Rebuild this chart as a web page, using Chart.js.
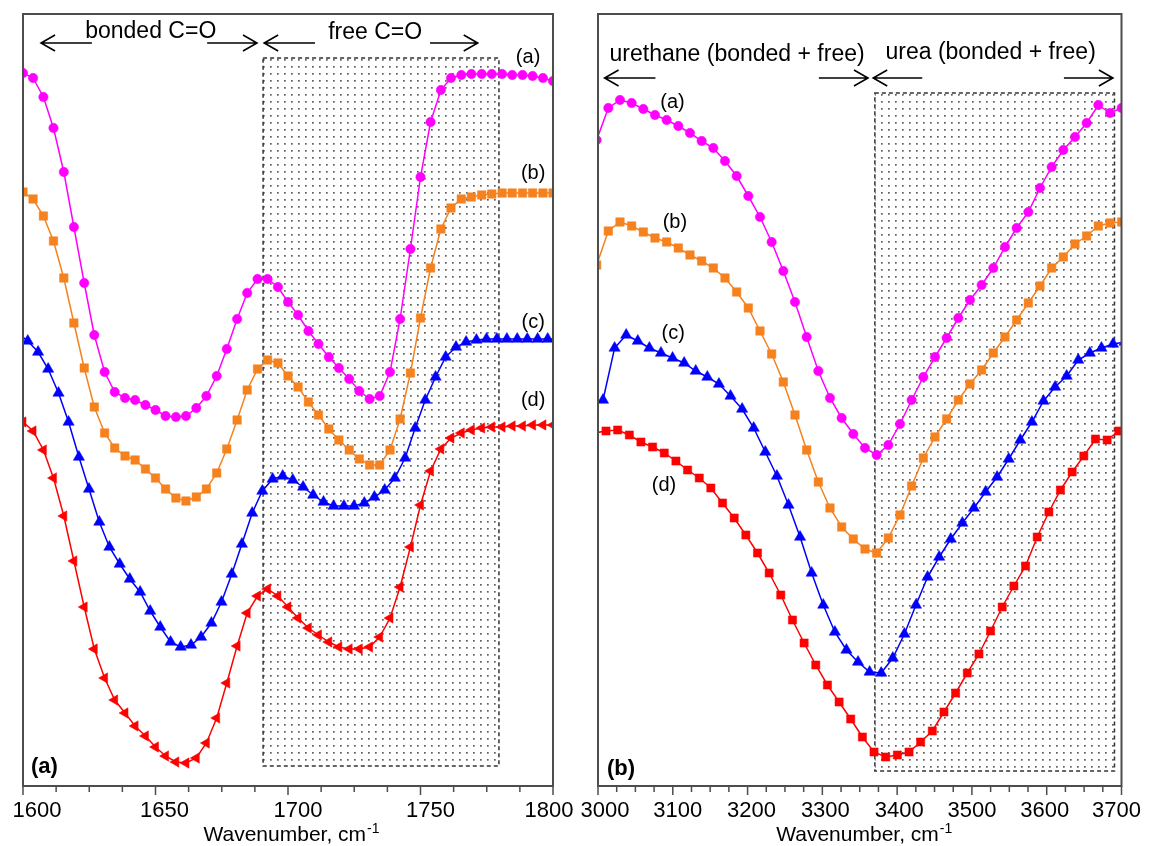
<!DOCTYPE html>
<html>
<head>
<meta charset="utf-8">
<script src="https://cdn.jsdelivr.net/npm/chart.js@4.4.1/dist/chart.umd.min.js"></script>
<style>
  html, body { margin: 0; padding: 0; background: #fff; }
  body { width: 1151px; height: 846px; position: relative; overflow: hidden; }
  canvas { position: absolute; top: 0; }
  #left { left: -20px; width: 610px; height: 846px; }
  #right { left: 570px; width: 581px; height: 846px; }
</style>
</head>
<body>
<canvas id="left" width="610" height="846"></canvas>
<canvas id="right" width="581" height="846"></canvas>
<script>
// ---- panel (a): C=O region, 1600-1800 cm-1 ----
const xLeft = [1600.0, 1603.8, 1607.7, 1611.5, 1615.4, 1619.2, 1623.1, 1626.9, 1630.8, 1634.6,
  1638.5, 1642.3, 1646.2, 1650.0, 1653.8, 1657.7, 1661.5, 1665.4, 1669.2, 1673.1,
  1676.9, 1680.8, 1684.6, 1688.5, 1692.3, 1696.2, 1700.0, 1703.8, 1707.7, 1711.5,
  1715.4, 1719.2, 1723.1, 1726.9, 1730.8, 1734.6, 1738.5, 1742.3, 1746.2, 1750.0,
  1753.8, 1757.7, 1761.5, 1765.4, 1769.2, 1773.1, 1776.9, 1780.8, 1784.6, 1788.5,
  1792.3, 1796.2, 1800.0];
// (c) の点は少しずれた位置に打たれている
const xLeftC = [1598.0, 1601.8, 1605.7, 1609.5, 1613.4, 1617.2, 1621.1, 1624.9, 1628.8, 1632.6,
  1636.5, 1640.3, 1644.2, 1648.0, 1651.8, 1655.7, 1659.5, 1663.4, 1667.2, 1671.1,
  1674.9, 1678.8, 1682.6, 1686.5, 1690.3, 1694.2, 1698.0, 1701.8, 1705.7, 1709.5,
  1713.4, 1717.2, 1721.1, 1724.9, 1728.8, 1732.6, 1736.5, 1740.3, 1744.2, 1748.0,
  1751.8, 1755.7, 1759.5, 1763.4, 1767.2, 1771.1, 1774.9, 1778.8, 1782.6, 1786.5,
  1790.3, 1794.2, 1798.0, 1801.8];

const aLeft = [71.7, 71.2, 69.3, 66.2, 61.8, 56.3, 50.7, 45.5, 41.8, 39.8,
  39.2, 39.0, 38.5, 38.0, 37.4, 37.3, 37.4, 38.2, 39.4, 41.4,
  44.1, 47.1, 49.7, 51.1, 51.1, 50.3, 48.8, 47.5, 45.9, 44.6,
  43.3, 42.2, 41.1, 39.9, 39.1, 39.4, 41.8, 47.1, 54.1, 61.3,
  66.8, 70.0, 71.2, 71.5, 71.6, 71.6, 71.6, 71.6, 71.5, 71.5,
  71.4, 71.2, 70.9];
const bLeft = [59.8, 59.1, 57.4, 54.9, 51.2, 46.7, 42.2, 38.3, 35.7, 34.2,
  33.4, 33.0, 32.1, 31.2, 30.1, 29.2, 28.9, 29.3, 30.1, 31.7,
  34.1, 37.0, 40.0, 42.1, 43.0, 42.7, 41.4, 40.3, 38.8, 37.5,
  36.1, 35.0, 34.0, 33.1, 32.5, 32.5, 34.0, 37.1, 41.7, 47.2,
  52.2, 56.1, 58.2, 59.1, 59.3, 59.5, 59.6, 59.7, 59.7, 59.7,
  59.7, 59.7, 59.7];
const cLeft = [45.7, 44.9, 43.8, 42.1, 39.7, 36.8, 33.3, 30.1, 26.8, 24.3,
  22.6, 21.1, 19.8, 17.9, 16.3, 14.8, 14.3, 14.5, 15.3, 16.7,
  18.8, 21.6, 24.6, 27.7, 29.9, 31.1, 31.4, 31.0, 30.3, 29.5,
  28.8, 28.4, 28.4, 28.4, 28.7, 29.3, 30.0, 31.2, 33.2, 36.2,
  39.0, 41.3, 43.3, 44.3, 44.8, 45.0, 45.1, 45.1, 45.1, 45.1,
  45.1, 45.1, 45.1, 45.1];
const dLeft = [36.8, 35.9, 34.0, 31.2, 27.4, 22.9, 18.3, 14.1, 11.2, 9.0,
  7.7, 6.4, 5.4, 4.3, 3.4, 2.8, 2.7, 3.2, 4.7, 7.2,
  10.7, 14.4, 17.7, 19.4, 20.1, 19.4, 18.3, 17.2, 16.2, 15.5,
  14.8, 14.3, 14.1, 14.1, 14.3, 15.3, 17.2, 20.3, 24.3, 28.5,
  31.9, 34.1, 35.2, 35.7, 36.0, 36.2, 36.3, 36.3, 36.4, 36.4,
  36.5, 36.5, 36.5];

// ---- panel (b): N-H region, 3000-3700 cm-1 ----
const xRight = [2998.2, 3013.8, 3029.4, 3045.0, 3060.6, 3076.2, 3091.8, 3107.4, 3123.0, 3138.6,
  3154.2, 3169.8, 3185.4, 3201.0, 3216.6, 3232.2, 3247.8, 3263.4, 3279.0, 3294.6,
  3310.2, 3325.8, 3341.4, 3357.0, 3372.6, 3388.2, 3403.8, 3419.4, 3435.0, 3450.6,
  3466.2, 3481.8, 3497.4, 3513.0, 3528.6, 3544.2, 3559.8, 3575.4, 3591.0, 3606.6,
  3622.2, 3637.8, 3653.4, 3669.0, 3684.6, 3700.2];
const xRightC = [3006.7, 3022.2, 3037.7, 3053.2, 3068.7, 3084.2, 3099.7, 3115.2, 3130.7, 3146.2,
  3161.7, 3177.2, 3192.7, 3208.2, 3223.7, 3239.2, 3254.7, 3270.2, 3285.7, 3301.2,
  3316.7, 3332.2, 3347.7, 3363.2, 3378.7, 3394.2, 3409.7, 3425.2, 3440.7, 3456.2,
  3471.7, 3487.2, 3502.7, 3518.2, 3533.7, 3549.2, 3564.7, 3580.2, 3595.7, 3611.2,
  3626.7, 3642.2, 3657.7, 3673.2, 3688.7, 3704.2];
const xRightD = [2995.1, 3010.7, 3026.3, 3041.9, 3057.4, 3073.0, 3088.6, 3104.2, 3119.8, 3135.4,
  3150.9, 3166.5, 3182.1, 3197.7, 3213.3, 3228.9, 3244.4, 3260.0, 3275.6, 3291.2,
  3306.8, 3322.4, 3337.9, 3353.5, 3369.1, 3384.7, 3400.3, 3415.9, 3431.4, 3447.0,
  3462.6, 3478.2, 3493.8, 3509.4, 3524.9, 3540.5, 3556.1, 3571.7, 3587.3, 3602.9,
  3618.4, 3634.0, 3649.6, 3665.2, 3680.8, 3696.4, 3711.9];

const aRight = [65.0, 68.2, 69.0, 68.7, 68.1, 67.5, 67.0, 66.4, 65.7, 64.9,
  64.2, 62.9, 61.4, 59.4, 57.3, 54.8, 51.9, 48.8, 45.3, 41.9,
  39.2, 37.2, 35.6, 34.2, 33.5, 34.5, 36.6, 39.0, 41.3, 43.3,
  45.2, 47.2, 49.0, 50.5, 52.2, 54.3, 56.2, 57.8, 60.2, 62.3,
  64.0, 65.3, 66.7, 68.5, 67.7, 68.2];
const bRight = [52.5, 55.9, 56.8, 56.4, 55.8, 55.2, 54.8, 54.2, 53.5, 52.9,
  52.2, 51.2, 49.8, 48.2, 45.9, 43.6, 40.8, 37.5, 34.0, 30.8,
  28.2, 26.3, 25.1, 24.1, 23.7, 25.2, 27.5, 30.4, 33.2, 35.3,
  37.1, 39.0, 40.6, 42.0, 43.7, 45.3, 47.0, 48.7, 50.4, 52.2,
  53.3, 54.6, 55.4, 56.4, 56.7, 56.8];
const cRight = [39.0, 44.2, 45.5, 44.9, 44.2, 43.7, 43.2, 42.7, 41.9, 41.3,
  40.6, 39.4, 38.1, 36.2, 33.8, 31.4, 28.5, 25.3, 21.7, 18.5,
  15.8, 14.0, 12.8, 11.8, 11.7, 13.2, 15.6, 18.5, 21.3, 23.3,
  25.1, 26.7, 28.2, 29.8, 31.3, 33.1, 35.0, 36.8, 38.9, 40.3,
  41.4, 43.0, 43.7, 44.2, 44.6, 44.8];
const dRight = [35.7, 35.9, 36.0, 35.5, 34.8, 34.3, 33.7, 32.9, 32.0, 31.2,
  30.2, 28.7, 27.2, 25.5, 23.7, 21.7, 19.5, 17.0, 14.7, 12.5,
  10.5, 8.8, 7.1, 5.3, 3.8, 3.3, 3.5, 3.8, 4.8, 5.9,
  7.8, 9.7, 11.7, 13.6, 15.9, 18.3, 20.4, 22.4, 25.3, 27.8,
  30.0, 31.8, 33.4, 35.1, 35.0, 35.9, 36.2];

const seriesNames = ['(a)', '(b)', '(c)', '(d)'];
const axisTitle = 'Wavenumber, cm';
const axisTitleSup = '-1';

const FONT = "'Liberation Sans', Arial, sans-serif";
const FRAME = '#4d4d4d';
const COLORS = ['#ff00ff', '#f5821f', '#0000ff', '#ff0000'];

// 系列ごとのマーカー（(d) は左が◀、右が■）
const markersLeft = [
  { pointStyle: 'circle', radius: 4.7, rotation: 0 },
  { pointStyle: 'rect', radius: 6, rotation: 0 },
  { pointStyle: 'triangle', radius: 6.5, rotation: 0 },
  { pointStyle: 'triangle', radius: 6, rotation: -90 }
];
const markersRight = [
  { pointStyle: 'circle', radius: 4.7, rotation: 0 },
  { pointStyle: 'rect', radius: 6, rotation: 0 },
  { pointStyle: 'triangle', radius: 6.5, rotation: 0 },
  { pointStyle: 'rect', radius: 5.8, rotation: 0 }
];

function toPoints(xs, ys) {
  return ys.map((y, i) => ({ x: xs[i], y: y }));
}

function makeDataset(xs, ys, i, markers) {
  const m = markers[i];
  return {
    label: seriesNames[i],
    data: toPoints(xs, ys),
    borderColor: COLORS[i],
    backgroundColor: COLORS[i],
    borderWidth: 1.5,
    pointStyle: m.pointStyle,
    pointRadius: m.radius,
    pointRotation: m.rotation,
    pointBorderWidth: 0.5,
    pointBorderColor: COLORS[i],
    pointBackgroundColor: COLORS[i],
    tension: 0
  };
}

// 点描の網掛けパターン
function dotPattern(ctx) {
  const c = document.createElement('canvas');
  c.width = 7; c.height = 7;
  const g = c.getContext('2d');
  g.fillStyle = '#5e5e5e';
  g.fillRect(3, 3, 1.7, 1.7);
  return ctx.createPattern(c, 'repeat');
}

function drawArrow(ctx, x0, y0, x1, y1) {
  const dir = Math.sign(x1 - x0);
  ctx.beginPath();
  ctx.moveTo(x0, y0);
  ctx.lineTo(x1, y1);
  ctx.moveTo(x1 - dir * 14, y1 - 8);
  ctx.lineTo(x1, y1);
  ctx.lineTo(x1 - dir * 14, y1 + 8);
  ctx.stroke();
}

function panelPlugin(p) {
  return {
    id: 'panelDecor',
    beforeDatasetsDraw(chart) {
      const { ctx, scales: { x, y } } = chart;
      const x0 = x.getPixelForValue(p.zone[0]), x1 = x.getPixelForValue(p.zone[1]);
      const y0 = y.getPixelForValue(p.zone[2]), y1 = y.getPixelForValue(p.zone[3]);
      ctx.save();
      ctx.fillStyle = dotPattern(ctx);
      ctx.fillRect(x0, y0, x1 - x0, y1 - y0);
      ctx.setLineDash([4, 3]);
      ctx.strokeStyle = '#333';
      ctx.lineWidth = 1.5;
      ctx.strokeRect(x0, y0, x1 - x0, y1 - y0);
      ctx.restore();
    },
    afterDatasetsDraw(chart) {
      const { ctx, chartArea: a, scales: { x, y } } = chart;
      ctx.save();
      // 枠
      ctx.strokeStyle = FRAME;
      ctx.lineWidth = 2;
      ctx.strokeRect(a.left, a.top, a.right - a.left, a.bottom - a.top);
      // 目盛り（主 9px・副 6px）
      ctx.lineWidth = 1.5;
      ctx.beginPath();
      for (let v = x.min; v <= x.max + 0.01; v += p.minorStep) {
        const px = x.getPixelForValue(v);
        ctx.moveTo(px, a.bottom);
        ctx.lineTo(px, a.bottom + 6);
      }
      x.ticks.forEach(t => {
        const px = x.getPixelForValue(t.value);
        ctx.moveTo(px, a.bottom);
        ctx.lineTo(px, a.bottom + 9);
      });
      ctx.stroke();
      // 目盛りラベル（元図では少しずれて置かれている）
      ctx.fillStyle = '#000';
      ctx.font = '22px ' + FONT;
      ctx.textAlign = 'center';
      ctx.textBaseline = 'alphabetic';
      x.ticks.forEach((t, i) => {
        const px = x.getPixelForValue(t.value) + (p.labelShift[i] || 0);
        ctx.fillText(String(t.value), px, a.bottom + 31);
      });

      // 領域の説明と矢印
      ctx.strokeStyle = '#000';
      ctx.lineWidth = 1.6;
      ctx.font = '23px ' + FONT;
      p.notes.forEach(n => {
        ctx.fillText(n.text, x.getPixelForValue(n.x), y.getPixelForValue(n.y));
      });
      p.arrows.forEach(r => {
        const py = y.getPixelForValue(r.y);
        drawArrow(ctx, x.getPixelForValue(r.from), py, x.getPixelForValue(r.to), py);
      });

      // 系列ラベル
      ctx.font = '20px ' + FONT;
      ctx.textBaseline = 'middle';
      p.labels.forEach((l, i) => {
        ctx.fillText(seriesNames[i], x.getPixelForValue(l[0]), y.getPixelForValue(l[1]));
      });

      // パネル記号
      ctx.font = 'bold 22px ' + FONT;
      ctx.fillText(p.panelName, x.getPixelForValue(p.panelPos[0]), y.getPixelForValue(p.panelPos[1]));

      // 軸タイトル（上付き -1）
      ctx.textAlign = 'left';
      ctx.textBaseline = 'alphabetic';
      ctx.font = '21px ' + FONT;
      const w1 = ctx.measureText(axisTitle).width;
      ctx.font = '14px ' + FONT;
      const w2 = ctx.measureText(axisTitleSup).width;
      const cx = (a.left + a.right) / 2 - (w1 + w2) / 2 + p.titleShift;
      const by = a.bottom + 55;
      ctx.font = '21px ' + FONT;
      ctx.fillText(axisTitle, cx, by);
      ctx.font = '14px ' + FONT;
      ctx.fillText(axisTitleSup, cx + w1 + 1, by - 8);
      ctx.restore();
    }
  };
}

function makePanel(id, p) {
  const ctx = document.getElementById(id).getContext('2d');
  return new Chart(ctx, {
    type: 'line',
    data: { datasets: p.datasets },
    options: {
      responsive: false,
      animation: false,
      layout: { padding: p.padding },
      plugins: { legend: { display: false }, tooltip: { enabled: false } },
      scales: {
        x: {
          type: 'linear',
          min: p.min,
          max: p.max,
          afterFit: s => { s.height = 60; },
          ticks: { stepSize: p.step, autoSkip: false, display: false },
          grid: { display: false },
          border: { display: false }
        },
        y: { display: false, min: 0.4, max: 77.6 }
      }
    },
    plugins: [panelPlugin(p)]
  });
}

makePanel('left', {
  min: 1600, max: 1800, step: 50, minorStep: 12.5,
  padding: { left: 43, right: 37, top: 14, bottom: 0 },
  labelShift: [14, 9, 10, 10, -4],
  titleShift: 3,
  datasets: [
    makeDataset(xLeft, aLeft, 0, markersLeft),
    makeDataset(xLeft, bLeft, 1, markersLeft),
    makeDataset(xLeftC, cLeft, 2, markersLeft),
    makeDataset(xLeft, dLeft, 3, markersLeft)
  ],
  zone: [1690.6, 1779.6, 73.2, 2.4],
  notes: [
    { text: 'bonded C=O', x: 1648.2, y: 75.2 },
    { text: 'free C=O', x: 1732.9, y: 75.1 }
  ],
  arrows: [
    { from: 1626.0, to: 1606.8, y: 74.7 },
    { from: 1669.5, to: 1688.3, y: 74.7 },
    { from: 1710.2, to: 1691.0, y: 74.7 },
    { from: 1753.6, to: 1771.6, y: 74.7 }
  ],
  labels: [[1790.6, 73.3], [1792.5, 61.7], [1792.5, 46.8], [1792.5, 39.0]],
  panelName: '(a)', panelPos: [1608.1, 2.3]
});

makePanel('right', {
  min: 3000, max: 3700, step: 100, minorStep: 25,
  padding: { left: 28, right: 29.5, top: 14, bottom: 0 },
  labelShift: [7, 5, 4, 3, 2, 0, -2, -5],
  titleShift: 4,
  datasets: [
    makeDataset(xRight, aRight, 0, markersRight),
    makeDataset(xRight, bRight, 1, markersRight),
    makeDataset(xRightC, cRight, 2, markersRight),
    makeDataset(xRightD, dRight, 3, markersRight)
  ],
  zone: [3370.2, 3690.6, 69.7, 1.9],
  notes: [
    { text: 'urethane (bonded + free)', x: 3186, y: 72.9 },
    { text: 'urea (bonded + free)', x: 3525, y: 73.1 }
  ],
  arrows: [
    { from: 3076.8, to: 3008.8, y: 71.2 },
    { from: 3295.3, to: 3361.0, y: 71.2 },
    { from: 3433.6, to: 3368.0, y: 71.2 },
    { from: 3623.0, to: 3688.5, y: 71.2 }
  ],
  labels: [[3099.7, 68.8], [3102.8, 56.8], [3100.5, 45.7], [3088.3, 30.5]],
  panelName: '(b)', panelPos: [3030.8, 2.1]
});
</script>
</body>
</html>
